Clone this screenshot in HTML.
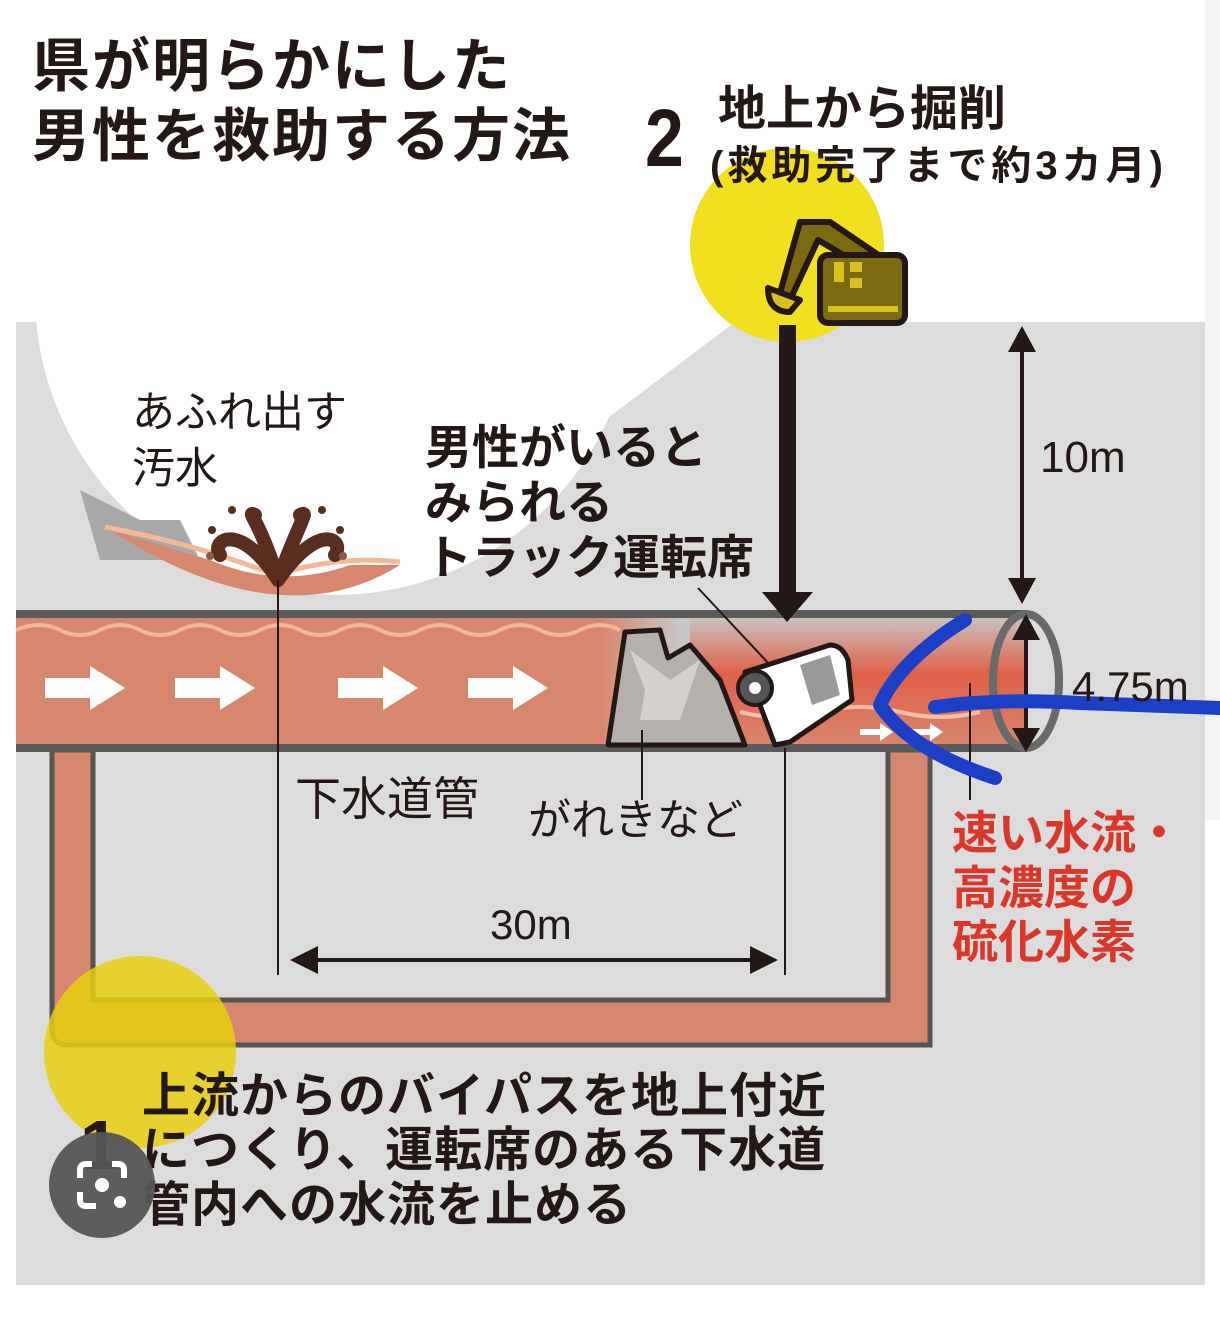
<!DOCTYPE html>
<html><head><meta charset="utf-8"><style>
html,body{margin:0;padding:0;background:#fff}
body{width:1220px;height:1317px;overflow:hidden;position:relative}
svg{position:absolute;left:0;top:0}
.t{position:absolute;font-family:"Liberation Sans","Noto Sans CJK JP",sans-serif;color:#231815;white-space:nowrap;line-height:1}
.b{font-weight:bold}
</style></head><body>
<svg width="1220" height="1317" viewBox="0 0 1220 1317">
<defs>
<linearGradient id="pg" x1="0" y1="0" x2="1" y2="0">
<stop offset="0" stop-color="#d8876f"/><stop offset="0.58" stop-color="#d8876f"/><stop offset="0.66" stop-color="#c8c8c8"/><stop offset="1" stop-color="#c8c8c8"/>
</linearGradient>
<linearGradient id="rg" x1="0" y1="0" x2="0" y2="1">
<stop offset="0" stop-color="#c8c8c8"/><stop offset="0.45" stop-color="#e06048"/><stop offset="1" stop-color="#d8876f"/>
</linearGradient>
</defs>
<rect x="16" y="322" width="1189" height="963" fill="#dcdcdc"/>
<rect x="1205" y="0" width="15" height="820" fill="#f3f3f3"/>
<!-- magnifier white -->
<circle cx="335" cy="295" r="300" fill="#fff"/>
<polygon points="40,322 735,322 400,575 300,400" fill="#fff"/>
<rect x="16" y="0" width="1189" height="322" fill="#fff"/>
<circle cx="787" cy="245" r="97" fill="#f0e020"/>
<!-- ground under sewage -->
<polygon points="80,490 140,520 180,520 200,560 100,560" fill="#a8a8a8"/>
<path d="M110 530 Q280 640 400 565 L350 565 Q280 590 210 560 Z" fill="#d8876f"/>
<path d="M105 527 Q200 545 275 575 Q340 555 400 562" stroke="#f2b898" stroke-width="5" fill="none"/>
<path d="M278 580 C240 520 210 540 220 555 M278 580 C320 520 345 540 335 555 M278 580 C260 520 245 510 255 515 M278 580 C300 520 310 510 300 515" stroke="#5a2e1e" stroke-width="14" fill="none" stroke-linecap="round"/>
<circle cx="232" cy="510" r="4" fill="#5a2e1e"/><circle cx="322" cy="510" r="4" fill="#5a2e1e"/><circle cx="212" cy="530" r="4" fill="#5a2e1e"/><circle cx="340" cy="530" r="4" fill="#5a2e1e"/><circle cx="210" cy="556" r="4" fill="#8a5a4a"/><circle cx="343" cy="556" r="4" fill="#8a5a4a"/>
<!-- bypass U -->
<path d="M52 750 L52 1030 Q52 1045 68 1045 L930 1045 L930 750 L888 750 L888 1000 L93 1000 L93 750 Z" fill="#d8876f" stroke="#555" stroke-width="5"/>
<!-- pipe -->
<rect x="16" y="614" width="1010" height="134" fill="url(#pg)"/>
<rect x="690" y="614" width="336" height="134" fill="url(#rg)"/>
<path d="M16 630 Q40 620 60 630 T100 630 T140 630 T180 630 T220 630 T260 630 T300 630 T340 630 T380 630 T420 630 T460 630 T500 630 T540 630 T580 630 T620 630" stroke="#f2b898" stroke-width="4" fill="none"/>
<path d="M740 712 Q780 722 820 712 T900 712 T980 712" stroke="#f5c0a8" stroke-width="4" fill="none"/>
<line x1="16" y1="614" x2="1026" y2="614" stroke="#5a5a5a" stroke-width="8"/>
<line x1="16" y1="748" x2="1026" y2="748" stroke="#5a5a5a" stroke-width="8"/>
<ellipse cx="1026" cy="681" rx="33" ry="67" fill="none" stroke="#6a6a6a" stroke-width="8"/>
<g fill="#fff">
<polygon points="45,678 90,678 90,666 125,688 90,710 90,698 45,698"/>
<polygon points="175,678 220,678 220,666 255,688 220,710 220,698 175,698"/>
<polygon points="338,678 383,678 383,666 418,688 383,710 383,698 338,698"/>
<polygon points="468,678 513,678 513,666 548,688 513,710 513,698 468,698"/>
<polygon points="860,729 880,729 880,723 893,732 880,741 880,735 860,735"/>
<polygon points="910,729 930,729 930,723 943,732 930,741 930,735 910,735"/>
</g>
<path d="M608 745 L625 632 L660 630 L668 658 L690 645 L720 680 L745 745 Z" fill="#b4b0ac" stroke="#231815" stroke-width="5" stroke-linejoin="round"/>
<path d="M630 650 L645 690 L640 720 L680 720 L700 660 L670 680 Z" fill="#d4d0cc"/>
<path d="M745 672 L830 645 Q842 645 848 660 L852 700 L790 742 L775 745 L760 705 Z" fill="#fff" stroke="#231815" stroke-width="5" stroke-linejoin="round"/>
<polygon points="800,665 830,655 840,695 812,705" fill="#999"/>
<circle cx="755" cy="688" r="17" fill="#555" stroke="#231815" stroke-width="4"/>
<circle cx="755" cy="688" r="6" fill="#fff"/>
<g stroke="#231815" stroke-width="2">
<line x1="698" y1="588" x2="770" y2="665"/>
<line x1="642" y1="730" x2="642" y2="800"/>
<line x1="785" y1="748" x2="785" y2="975"/>
<line x1="278" y1="580" x2="278" y2="975"/>
<line x1="970" y1="683" x2="970" y2="800"/>
</g>
<rect x="779" y="325" width="17" height="270" fill="#231815"/>
<polygon points="762,592 813,592 787,622" fill="#231815"/>
<g stroke="#231815" stroke-width="6" stroke-linejoin="round">
<path d="M778 300 L800 222 L830 222 L880 256 L862 266 L818 240 L790 300 Z" fill="#7a6a10"/>
<path d="M768 288 Q768 312 790 312 L800 300 Z" fill="#d8c020"/>
<rect x="820" y="255" width="85" height="68" rx="8" fill="#7a6a10"/>
</g>
<rect x="834" y="262" width="10" height="20" fill="#d8c020"/><rect x="850" y="262" width="12" height="10" fill="#d8c020"/><rect x="850" y="278" width="12" height="10" fill="#d8c020"/>
<rect x="828" y="306" width="70" height="6" fill="#d8c020"/>
<line x1="1022" y1="345" x2="1022" y2="585" stroke="#231815" stroke-width="4"/>
<polygon points="1008,352 1036,352 1022,326" fill="#231815"/>
<polygon points="1008,578 1036,578 1022,604" fill="#231815"/>
<line x1="1026" y1="630" x2="1026" y2="735" stroke="#231815" stroke-width="4"/>
<polygon points="1012,640 1040,640 1026,614" fill="#231815"/>
<polygon points="1012,728 1040,728 1026,752" fill="#231815"/>
<line x1="300" y1="960" x2="765" y2="960" stroke="#231815" stroke-width="4"/>
<polygon points="290,960 318,946 318,974" fill="#231815"/>
<polygon points="778,960 750,946 750,974" fill="#231815"/>
<circle cx="140" cy="1052" r="96" fill="#e8cf10" fill-opacity="0.85"/>
<path d="M965 620 Q900 660 880 705 Q910 750 995 778" stroke="#1c3fc8" stroke-width="14" fill="none" stroke-linecap="round" stroke-linejoin="round"/>
<path d="M935 707 Q1000 698 1080 703 L1220 708" stroke="#1c3fc8" stroke-width="14" fill="none" stroke-linecap="round"/>
</svg>
<div class="t b" style="left:32px;top:38px;font-size:58px;letter-spacing:2px">県が明らかにした</div>
<div class="t b" style="left:32px;top:108px;font-size:58px;letter-spacing:2px">男性を救助する方法</div>
<div class="t b" style="left:645px;top:98px;font-size:82px;transform:scaleX(0.85);transform-origin:left">2</div>
<div class="t b" style="left:718px;top:86px;font-size:48px">地上から掘削</div>
<div class="t b" style="left:710px;top:146px;font-size:40px;letter-spacing:4px">(救助完了まで約3カ月)</div>
<div class="t" style="left:132px;top:392px;font-size:43px">あふれ出す</div>
<div class="t" style="left:132px;top:448px;font-size:43px">汚水</div>
<div class="t b" style="left:425px;top:424px;font-size:47px">男性がいると</div>
<div class="t b" style="left:425px;top:479px;font-size:47px">みられる</div>
<div class="t b" style="left:425px;top:534px;font-size:47px">トラック運転席</div>
<div class="t" style="left:1040px;top:436px;font-size:44px">10m</div>
<div class="t" style="left:1072px;top:666px;font-size:42px">4.75m</div>
<div class="t" style="left:295px;top:776px;font-size:46px">下水道管</div>
<div class="t" style="left:528px;top:800px;font-size:43px">がれきなど</div>
<div class="t" style="left:490px;top:904px;font-size:42px">30m</div>
<div class="t b" style="left:952px;top:810px;font-size:46px;color:#d9372a">速い水流・</div>
<div class="t b" style="left:952px;top:865px;font-size:46px;color:#d9372a">高濃度の</div>
<div class="t b" style="left:952px;top:919px;font-size:46px;color:#d9372a">硫化水素</div>
<div class="t b" style="left:80px;top:1110px;font-size:70px">1</div>
<div class="t b" style="left:142px;top:1073px;font-size:48px;letter-spacing:1px">上流からのバイパスを地上付近</div>
<div class="t b" style="left:142px;top:1127px;font-size:48px;letter-spacing:1px">につくり、運転席のある下水道</div>
<div class="t b" style="left:142px;top:1182px;font-size:48px;letter-spacing:1px">管内への水流を止める</div>
<svg width="1220" height="1317" viewBox="0 0 1220 1317">
<circle cx="102" cy="1185" r="53" fill="#555" fill-opacity="0.95"/>
<path d="M80 1178 L80 1170 Q80 1164 86 1164 L92 1164 M112 1164 L118 1164 Q124 1164 124 1170 L124 1178 M80 1192 L80 1200 Q80 1206 86 1206 L96 1206" stroke="#fff" stroke-width="6" fill="none"/>
<circle cx="102" cy="1185" r="7" fill="#fff"/><circle cx="120" cy="1202" r="6" fill="#fff"/>
</svg>
</body></html>
